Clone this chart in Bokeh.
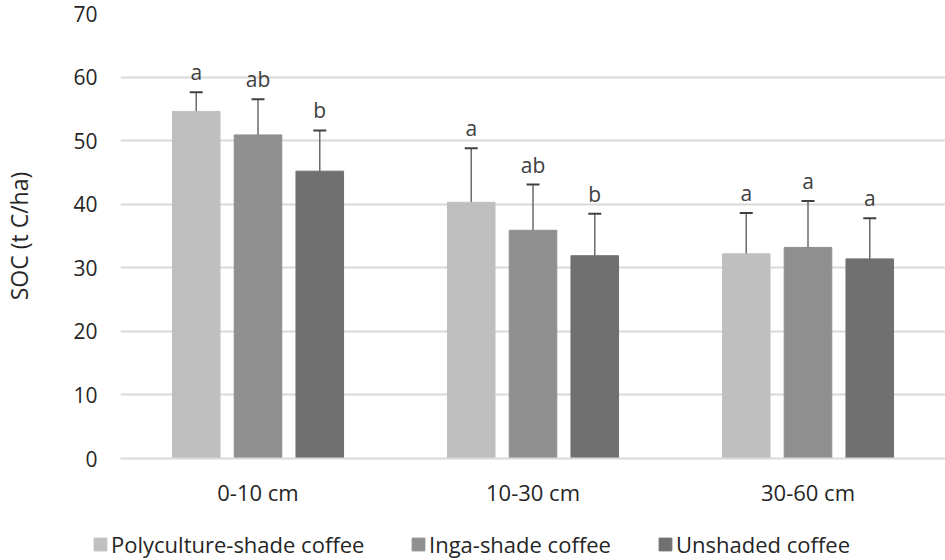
from bokeh.plotting import figure
from bokeh.models import (ColumnDataSource, FactorRange, Range1d, Legend, LegendItem,
                          FixedTicker, Whisker, TeeHead)
from bokeh.transform import dodge
from bokeh.core.properties import value
from bokeh.embed import file_html
from bokeh.resources import INLINE

# ---- data ----
cats = ["0-10 cm", "10-30 cm", "30-60 cm"]
series = ["Polyculture-shade coffee", "Inga-shade coffee", "Unshaded coffee"]

poly = [54.6, 40.3, 32.2]
inga = [50.9, 35.9, 33.2]
unsh = [45.2, 31.9, 31.4]

poly_hi = [57.6, 48.8, 38.6]
inga_hi = [56.5, 43.1, 40.5]
unsh_hi = [51.6, 38.5, 37.8]

poly_lo = [53.6, 39.1, 31.3]
inga_lo = [49.9, 35.0, 32.2]
unsh_lo = [44.3, 31.0, 30.4]

poly_let = ["a", "a", "a"]
inga_let = ["ab", "ab", "a"]
unsh_let = ["b", "b", "a"]

y_ticks = [0, 10, 20, 30, 40, 50, 60, 70]

# ---- styles ----
colors = ["#bfbfbf", "#8f8f8f", "#707070"]
offsets = [-0.2246, 0.0, 0.2246]
FONT = "Open Sans"
TXT = "#262626"
W = 945

p = figure(width=W, height=518, x_range=FactorRange(*cats, range_padding=0),
           y_range=Range1d(0, 70), output_backend="svg", toolbar_location=None,
           min_border_left=120, min_border_right=0, min_border_top=13, min_border_bottom=60)
p.outline_line_color = None
p.background_fill_color = "white"

p.xgrid.grid_line_color = None
p.ygrid.grid_line_color = "#d9d9d9"
p.ygrid.grid_line_width = 2
p.yaxis.ticker = FixedTicker(ticks=y_ticks)

p.yaxis.axis_line_color = None
p.yaxis.major_tick_line_color = None
p.yaxis.minor_tick_line_color = None
p.yaxis.major_tick_out = 0
p.yaxis.major_label_standoff = 23
p.yaxis.major_label_text_font = FONT
p.yaxis.major_label_text_font_size = "21px"
p.yaxis.major_label_text_color = TXT
p.yaxis.axis_label = "SOC (t C/ha)"
p.yaxis.axis_label_text_font = FONT
p.yaxis.axis_label_text_font_size = "23px"
p.yaxis.axis_label_text_font_style = "normal"
p.yaxis.axis_label_text_color = TXT
p.yaxis.axis_label_standoff = 35

p.xaxis.axis_line_color = "#d9d9d9"
p.xaxis.axis_line_width = 2
p.xaxis.major_tick_line_color = None
p.xaxis.minor_tick_line_color = None
p.xaxis.major_tick_out = 0
p.xaxis.major_label_standoff = 18
p.xaxis.major_label_text_font = FONT
p.xaxis.major_label_text_font_size = "22px"
p.xaxis.major_label_text_color = TXT

# ---- legend strip (second root, no axes) ----
lp = figure(width=W, height=41, x_range=FactorRange(*cats, range_padding=0),
            y_range=Range1d(0, 70), x_axis_type=None, y_axis_type=None,
            output_backend="svg", toolbar_location=None,
            min_border_left=0, min_border_right=0, min_border_top=0, min_border_bottom=0)
lp.outline_line_color = None
lp.xgrid.visible = False
lp.ygrid.visible = False

vals = [poly, inga, unsh]
his = [poly_hi, inga_hi, unsh_hi]
los = [poly_lo, inga_lo, unsh_lo]
lets = [poly_let, inga_let, unsh_let]

legend_x = [92, 410, 657]
for i in range(3):
    src = ColumnDataSource(dict(cat=cats, val=vals[i], hi=his[i], lo=los[i], lbl=lets[i]))
    p.vbar(x=dodge("cat", offsets[i], range=p.x_range), top="val", bottom=0, width=0.173,
           source=src, fill_color=colors[i], line_color=colors[i], line_width=1)
    w = Whisker(base=dodge("cat", offsets[i], range=p.x_range), upper="hi", lower="lo",
                source=src, dimension="height", line_color="#6a6a6a", line_width=1.5,
                upper_head=TeeHead(size=13, line_color="#404040", line_width=2),
                lower_head=TeeHead(size=13, line_color="#404040", line_width=2))
    p.add_layout(w)
    p.text(x=dodge("cat", offsets[i], range=p.x_range), y="hi", text="lbl", source=src,
           text_align="center", text_baseline="bottom", y_offset=-6,
           text_font=value(FONT), text_font_size="21px", text_color="#404040")

    # legend proxy (hidden copy of the same bars) in the legend strip
    r = lp.vbar(x=dodge("cat", offsets[i], range=lp.x_range), top="val", bottom=0,
                width=0.173, source=src, fill_color=colors[i], line_color=colors[i],
                visible=False)
    lg = Legend(items=[LegendItem(label=series[i], renderers=[r])],
                location=(legend_x[i], 0), orientation="horizontal",
                glyph_width=16, glyph_height=16, label_standoff=3, padding=0, margin=0,
                border_line_color=None, background_fill_alpha=0, inactive_fill_alpha=0,
                click_policy="none",
                label_text_font=FONT, label_text_font_size="22px", label_text_color=TXT)
    lp.add_layout(lg, "center")

open("out.html", "w").write(file_html([p, lp], INLINE))
